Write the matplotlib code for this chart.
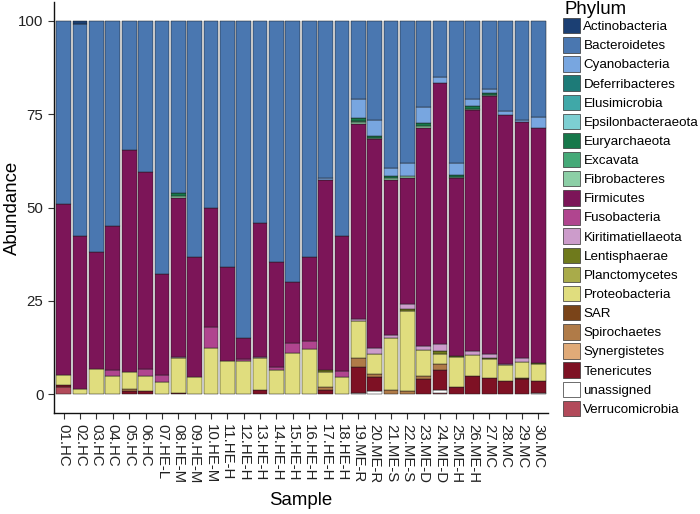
import numpy as np
import matplotlib
matplotlib.use("Agg")
import matplotlib.pyplot as plt
from matplotlib.patches import Patch

plt.rcParams['font.family'] = ['Liberation Sans', 'DejaVu Sans']

samples = ["01.HC", "02.HC", "03.HC", "04.HC", "05.HC", "06.HC", "07.HE-L", "08.HE-M",
           "09.HE-M", "10.HE-M", "11.HE-H", "12.HE-H", "13.HE-H", "14.HE-H", "15.HE-H",
           "16.HE-H", "17.HE-H", "18.HE-H", "19.ME-R", "20.ME-R", "21.ME-S", "22.ME-S",
           "23.ME-D", "24.ME-D", "25.ME-H", "26.ME-H", "27.MC", "28.MC", "29.MC", "30.MC"]

# legend order (top of stack first, like ggplot)
phyla = ["Actinobacteria", "Bacteroidetes", "Cyanobacteria", "Deferribacteres", "Elusimicrobia",
         "Epsilonbacteraeota", "Euryarchaeota", "Excavata", "Fibrobacteres", "Firmicutes",
         "Fusobacteria", "Kiritimatiellaeota", "Lentisphaerae", "Planctomycetes", "Proteobacteria",
         "SAR", "Spirochaetes", "Synergistetes", "Tenericutes", "unassigned", "Verrucomicrobia"]

colors = ["#1b3f73", "#4a77b0", "#78a6e0", "#1d7b78", "#40a8a8",
          "#7dcfd2", "#17784a", "#45aa78", "#8ccfa6", "#7c1558",
          "#b0458f", "#cc9ccb", "#6f7a1c", "#a9ab4a", "#e0dd7e",
          "#7a4419", "#b07b48", "#e0aa78", "#7e1124", "#ffffff", "#b24a5a"]

# abundance (%) per sample
actinobacteria = [0, 0.7, 0, 0, 0, 0, 0, 0, 0, 0, 0, 0, 0, 0, 0,
                  0, 0, 0, 0, 0, 0, 0, 0, 0, 0, 0, 0, 0, 0, 0]
bacteroidetes = [49, 57.0, 62, 55, 34.5, 40.5, 67.7, 46, 63.2, 50, 66, 85, 54, 64.5, 70,
                 63.2, 42, 57.5, 20.9, 26.6, 39.5, 38, 23, 15, 38, 21, 18.1, 24.2, 26.5, 25.8]
cyanobacteria = [0, 0, 0, 0, 0, 0, 0, 0, 0, 0, 0, 0, 0, 0, 0,
                 0, 0.5, 0, 5.1, 4.1, 2.0, 3.6, 4.3, 1.6, 3.3, 1.8, 1.1, 0.9, 0.6, 2.8]
euryarchaeota = [0, 0, 0, 0, 0, 0, 0, 0.8, 0, 0, 0, 0, 0, 0, 0,
                 0, 0, 0, 0.8, 0.6, 0.5, 0, 0.8, 0, 0.4, 0.7, 0.7, 0, 0, 0]
excavata = [0, 0, 0, 0, 0, 0, 0, 0, 0, 0, 0, 0, 0, 0, 0,
            0, 0, 0, 0.3, 0, 0, 0, 0, 0, 0, 0, 0, 0, 0, 0]
fibrobacteres = [0, 0, 0, 0, 0, 0, 0, 0.7, 0, 0, 0, 0, 0, 0, 0,
                 0, 0, 0, 0.4, 0.3, 0.5, 0.4, 0.5, 0, 0.3, 0.4, 0.3, 0, 0, 0]
firmicutes = [45.7, 41.0, 31.2, 38.6, 59.6, 52.7, 27.0, 42.5, 32.2, 31.9, 25.0, 5.5, 36.1, 28.3, 16.2,
              22.6, 50.9, 36.3, 52.2, 56.1, 41.5, 33.7, 58.4, 69.8, 47.7, 64.5, 68.9, 66.7, 63.3, 62.9]
fusobacteria = [0, 0, 0, 1.4, 0, 2.0, 2.1, 0, 0, 5.8, 0, 0.7, 0, 0.7, 2.8,
                2.1, 0, 1.6, 0, 0, 0, 0, 0, 0, 0, 0, 0, 0, 0, 0]
kiritimatiellaeota = [0, 0, 0, 0, 0, 0, 0, 0.4, 0, 0, 0, 0, 0.3, 0, 0,
                      0, 0, 0, 0.7, 1.6, 0.8, 1.4, 1.2, 2.0, 0, 1.1, 1.1, 0.4, 0.9, 0]
lentisphaerae = [0, 0, 0, 0, 0, 0, 0, 0, 0, 0, 0, 0, 0, 0, 0,
                 0, 0.6, 0, 0, 0, 0, 0.7, 0, 0.7, 0.4, 0, 0.4, 0, 0, 0.3]
proteobacteria = [2.9, 1.3, 6.8, 5.0, 4.5, 3.8, 3.2, 9.3, 4.6, 12.3, 9.0, 8.8, 8.4, 6.5, 11.0,
                  12.1, 4.0, 4.6, 9.8, 5.2, 14.1, 21.2, 6.8, 2.9, 7.9, 5.5, 4.9, 4.2, 4.2, 4.7]
sar = [0, 0, 0, 0, 0, 0, 0, 0, 0, 0, 0, 0, 0, 0, 0,
       0, 0, 0, 0, 0, 0, 0, 0, 0, 0, 0, 0, 0, 0.5, 0]
spirochaetes = [0, 0, 0, 0, 0.6, 0, 0, 0, 0, 0, 0, 0, 0, 0, 0,
                0, 0.8, 0, 2.4, 0.9, 1.1, 1.0, 0.9, 1.5, 0, 0, 0, 0, 0, 0]
tenericutes = [0.5, 0, 0, 0, 0.8, 1.0, 0, 0.3, 0, 0, 0, 0, 1.2, 0, 0,
               0, 1.2, 0, 7.0, 3.6, 0, 0, 4.1, 5.3, 2.0, 5.0, 4.5, 3.6, 4.0, 3.2]
unassigned = [0, 0, 0, 0, 0, 0, 0, 0, 0, 0, 0, 0, 0, 0, 0,
              0, 0, 0, 0.4, 1.0, 0, 0, 0, 0.9, 0, 0, 0, 0, 0, 0.3]
verrucomicrobia = [1.9, 0, 0, 0, 0, 0, 0, 0, 0, 0, 0, 0, 0, 0, 0,
                   0, 0, 0, 0, 0, 0, 0, 0, 0.3, 0, 0, 0, 0, 0, 0]

values = {
    "Actinobacteria": actinobacteria, "Bacteroidetes": bacteroidetes,
    "Cyanobacteria": cyanobacteria, "Euryarchaeota": euryarchaeota,
    "Excavata": excavata, "Fibrobacteres": fibrobacteres, "Firmicutes": firmicutes,
    "Fusobacteria": fusobacteria, "Kiritimatiellaeota": kiritimatiellaeota,
    "Lentisphaerae": lentisphaerae, "Proteobacteria": proteobacteria, "SAR": sar,
    "Spirochaetes": spirochaetes, "Tenericutes": tenericutes, "unassigned": unassigned,
    "Verrucomicrobia": verrucomicrobia,
}

fig = plt.figure(figsize=(7.0, 5.14), dpi=100)
ax = fig.add_axes([0.077, 0.1965, 0.706, 0.799])

x = np.arange(1, len(samples) + 1)
bottom = np.zeros(len(samples))
# stack from the bottom: last phylum in legend order sits at the bottom
for name, col in zip(phyla[::-1], colors[::-1]):
    if name not in values:
        continue
    h = np.array(values[name], dtype=float)
    m = h > 0
    ax.bar(x[m], h[m], bottom=bottom[m], width=0.9, color=col,
           edgecolor="#1a1a1a", linewidth=0.35)
    bottom += h

ax.set_xlim(0.4, 30.6)
ax.set_ylim(-5, 105)
ax.set_yticks([0, 25, 50, 75, 100])
ax.set_xticks(x)
ax.set_xticklabels(samples, rotation=-90, ha="center", va="top")
ax.tick_params(axis="both", labelsize=10.8, colors="#333333", labelcolor="#222222",
               length=4, width=0.8)
ax.tick_params(axis="x", pad=4)
for s in ["top", "right"]:
    ax.spines[s].set_visible(False)
for s in ["left", "bottom"]:
    ax.spines[s].set_linewidth(1.0)
    ax.spines[s].set_color("#111111")

ax.set_xlabel("Sample", fontsize=13.4, labelpad=6)
ax.set_ylabel("Abundance", fontsize=13.4)
ax.yaxis.set_label_coords(-0.066, 0.5)

# legend: title drawn separately so the rows can sit closer under it
fig.text(564 / 700, 1 - 9 / 514, "Phylum", fontsize=13.4, ha="left", va="center")
handles = [Patch(facecolor=c, edgecolor="#333333", linewidth=0.5, label=n)
           for n, c in zip(phyla, colors)]
leg = fig.legend(handles=handles, loc="upper left",
                 bbox_to_anchor=(563 / 700, 1 - 18 / 514), frameon=False, fontsize=9.6,
                 handlelength=1.28, handleheight=1.4,
                 labelspacing=0.28, handletextpad=0.25, borderpad=0.0,
                 borderaxespad=0)

fig.savefig("out.png", dpi=100)
